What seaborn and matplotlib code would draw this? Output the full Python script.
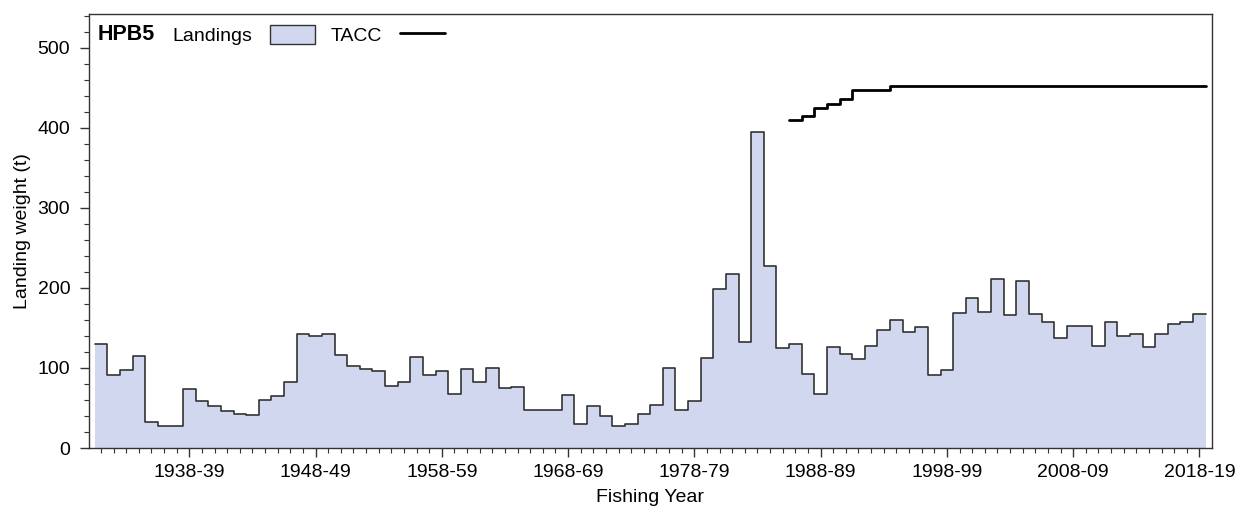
import numpy as np
import pandas as pd
import matplotlib
matplotlib.use("Agg")
import matplotlib.pyplot as plt
import seaborn as sns
from matplotlib.patches import Patch
from matplotlib.lines import Line2D
from matplotlib.ticker import MultipleLocator

# HPB5 landings (t) by fishing year
years = list(range(1931, 2019))
landings = [130, 91, 98, 115, 33, 28, 28, 74, 59, 53,
            46, 43, 41, 60, 65, 83, 142, 140, 142, 116,
            102, 99, 96, 77, 82, 114, 91, 96, 67, 99,
            82, 100, 75, 76, 47, 48, 48, 66, 30, 53,
            40, 28, 30, 42, 54, 100, 47, 59, 112, 199,
            218, 133, 395, 228, 125, 130, 92, 68, 126, 118,
            111, 128, 147, 160, 145, 151, 91, 98, 169, 188,
            170, 211, 166, 209, 168, 158, 138, 152, 152, 128,
            158, 140, 142, 126, 142, 155, 158, 168]

# TACC (t)
tacc_years = list(range(1986, 2019))
tacc = [410, 415, 425, 430, 436, 447, 447, 447, 452, 452,
        452, 452, 452, 452, 452, 452, 452, 452, 452, 452,
        452, 452, 452, 452, 452, 452, 452, 452, 452, 452,
        452, 452, 452]

tick_years = [1938, 1948, 1958, 1968, 1978, 1988, 1998, 2008, 2018]
tick_labels = ['1938-39', '1948-49', '1958-59', '1968-69', '1978-79',
               '1988-89', '1998-99', '2008-09', '2018-19']

sns.set_style("ticks")
plt.rcParams['font.family'] = ['Liberation Sans', 'DejaVu Sans']
plt.rcParams['text.color'] = 'black'
plt.rcParams['axes.labelcolor'] = 'black'
plt.rcParams['xtick.labelcolor'] = 'black'
plt.rcParams['ytick.labelcolor'] = 'black'

fill_col = '#d2d7f0'
edge_col = '#333333'
fs = 14

df = pd.DataFrame({'year': years, 'landings': landings})

fig, ax = plt.subplots(figsize=(12.5, 5.14), dpi=100)
fig.subplots_adjust(left=0.0712, right=0.9694, top=0.9728, bottom=0.1284)

# filled landings, one bin per fishing year
sns.histplot(data=df, x='year', weights='landings', discrete=True,
             element='step', fill=True, color=fill_col, alpha=1,
             linewidth=0, ax=ax)

# step outline on top of the fill
edges = np.append(np.array(years) - 0.5, years[-1] + 0.5)
sns.lineplot(x=edges, y=landings + [landings[-1]], drawstyle='steps-post',
             color=edge_col, linewidth=1.2, ax=ax)

tedges = np.append(np.array(tacc_years) - 0.5, tacc_years[-1] + 0.5)
sns.lineplot(x=tedges, y=tacc + [tacc[-1]], drawstyle='steps-post',
             color='black', linewidth=2, ax=ax)

ax.set_xlim(1930.05, 2018.98)
ax.set_ylim(0, 542.4)
ax.set_xticks(tick_years)
ax.set_xticklabels(tick_labels)
ax.xaxis.set_minor_locator(MultipleLocator(1))
ax.yaxis.set_major_locator(MultipleLocator(100))
ax.yaxis.set_minor_locator(MultipleLocator(20))
ax.tick_params(which='major', length=6.5, width=1, labelsize=fs, pad=5,
               color=edge_col)
ax.tick_params(which='minor', length=3.5, width=0.8, color=edge_col)
ax.tick_params(axis='y', which='major', pad=7)
for s in ax.spines.values():
    s.set_visible(True)
    s.set_color(edge_col)
    s.set_linewidth(1)

ax.set_xlabel('Fishing Year', fontsize=fs, labelpad=6)
ax.set_ylabel('Landing weight (t)', fontsize=fs, labelpad=5)

# legend row: stock code, then the two keys
ax.text(0.008, 0.9516, 'HPB5', transform=ax.transAxes, fontsize=15.5,
        fontweight='bold', va='center', ha='left')
handles = [Patch(facecolor=fill_col, edgecolor=edge_col, linewidth=1),
           Line2D([], [], color='black', linewidth=2)]
ax.legend(handles, ['Landings', 'TACC'], ncol=2, markerfirst=False,
          frameon=False, loc='center left', bbox_to_anchor=(0.0739, 0.9516),
          fontsize=fs, handlelength=2.3, handleheight=1.15,
          handletextpad=0.95, columnspacing=0.8, borderpad=0,
          borderaxespad=0)

fig.savefig('out.png', dpi=100)
